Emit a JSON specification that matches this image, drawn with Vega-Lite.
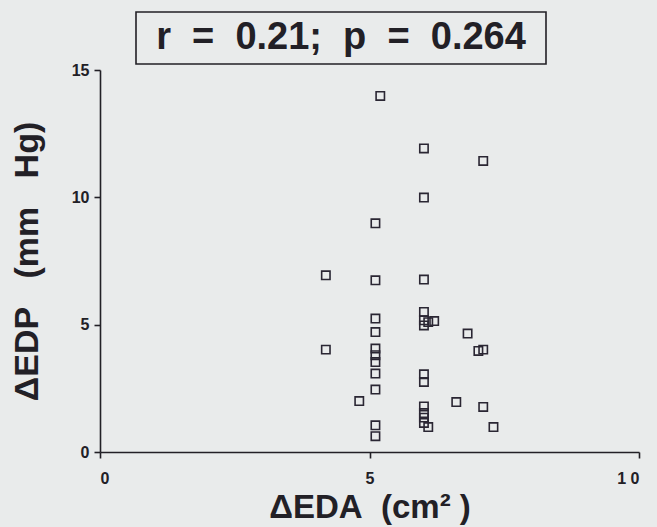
{
  "$schema": "https://vega.github.io/schema/vega-lite/v6.json",
  "background": "#e9ebeb",
  "padding": {"left": 10, "top": 11, "right": 20, "bottom": 12},
  "config": {
    "view": {"stroke": null},
    "font": "Liberation Sans",
    "axis": {
      "domainColor": "#222026",
      "domainWidth": 1.6,
      "tickColor": "#222026",
      "tickWidth": 1.6,
      "tickSize": 6,
      "grid": false,
      "labelFont": "Liberation Sans",
      "labelFontWeight": "bold",
      "labelFontSize": 16,
      "labelColor": "#222026",
      "titleFont": "Liberation Sans",
      "titleFontWeight": "bold",
      "titleFontSize": 33,
      "titleColor": "#222026"
    }
  },
  "bounds": "flush",
  "spacing": 58,
  "vconcat": [
    {
      "spacing": 0,
      "bounds": "flush",
      "hconcat": [
        {
          "width": 36,
          "height": 52,
          "data": {"values": [{"stat": ""}]},
          "mark": {"type": "text"},
          "encoding": {"text": {"field": "stat"}}
        },
        {
          "width": 410,
          "height": 52,
          "view": {"stroke": "#222026", "strokeWidth": 1.6},
          "data": {"values": [{"stat": "r\u00a0\u00a0=\u00a0\u00a00.21;\u00a0\u00a0p\u00a0\u00a0=\u00a0\u00a00.264"}]},
          "mark": {"type": "text", "font": "Liberation Sans", "fontWeight": "bold", "fontSize": 38, "baseline": "middle", "align": "center", "color": "#222026"},
          "encoding": {"text": {"field": "stat"}}
        }
      ]
    },
    {
      "width": 539,
      "height": 382,
      "data": {
        "values": [
          {"eda": 4.19, "edp": 6.94},
          {"eda": 4.19, "edp": 4.02},
          {"eda": 4.81, "edp": 2.0},
          {"eda": 5.2, "edp": 13.98},
          {"eda": 6.01, "edp": 11.92},
          {"eda": 7.11, "edp": 11.43},
          {"eda": 6.01, "edp": 9.99},
          {"eda": 5.11, "edp": 8.98},
          {"eda": 5.11, "edp": 6.74},
          {"eda": 6.01, "edp": 6.77},
          {"eda": 6.01, "edp": 5.5},
          {"eda": 6.01, "edp": 5.17},
          {"eda": 6.01, "edp": 4.97},
          {"eda": 6.09, "edp": 5.1},
          {"eda": 6.2, "edp": 5.14},
          {"eda": 5.11, "edp": 5.24},
          {"eda": 5.11, "edp": 4.71},
          {"eda": 6.82, "edp": 4.65},
          {"eda": 5.11, "edp": 4.06},
          {"eda": 5.11, "edp": 3.8},
          {"eda": 5.11, "edp": 3.53},
          {"eda": 7.02, "edp": 3.97},
          {"eda": 7.11, "edp": 4.02},
          {"eda": 5.11, "edp": 3.08},
          {"eda": 6.01, "edp": 3.05},
          {"eda": 6.01, "edp": 2.75},
          {"eda": 5.11, "edp": 2.45},
          {"eda": 6.61, "edp": 1.96},
          {"eda": 7.11, "edp": 1.77},
          {"eda": 6.01, "edp": 1.79},
          {"eda": 6.01, "edp": 1.53},
          {"eda": 6.01, "edp": 1.35},
          {"eda": 6.01, "edp": 1.14},
          {"eda": 6.09, "edp": 0.98},
          {"eda": 7.3, "edp": 0.98},
          {"eda": 5.11, "edp": 1.05},
          {"eda": 5.11, "edp": 0.62}
        ]
      },
      "mark": {"type": "point", "shape": "square", "filled": false, "size": 70, "stroke": "#2a2633", "strokeWidth": 1.6, "opacity": 1},
      "encoding": {
        "x": {
          "field": "eda",
          "type": "quantitative",
          "scale": {"domain": [0, 10], "nice": false},
          "axis": {
            "values": [0, 5, 10],
            "title": "ΔEDA\u00a0\u00a0(cm²\u00a0)",
            "labelPadding": 12,
            "titlePadding": 5,
            "labelExpr": "datum.value == 10 ? '1 0' : datum.label"
          }
        },
        "y": {
          "field": "edp",
          "type": "quantitative",
          "scale": {"domain": [0, 15], "nice": false},
          "axis": {
            "values": [0, 5, 10, 15],
            "title": "ΔEDP\u00a0\u00a0\u00a0(mm\u00a0\u00a0\u00a0Hg)",
            "titleFontSize": 34,
            "labelPadding": 5,
            "titlePadding": 27
          }
        }
      }
    }
  ]
}
